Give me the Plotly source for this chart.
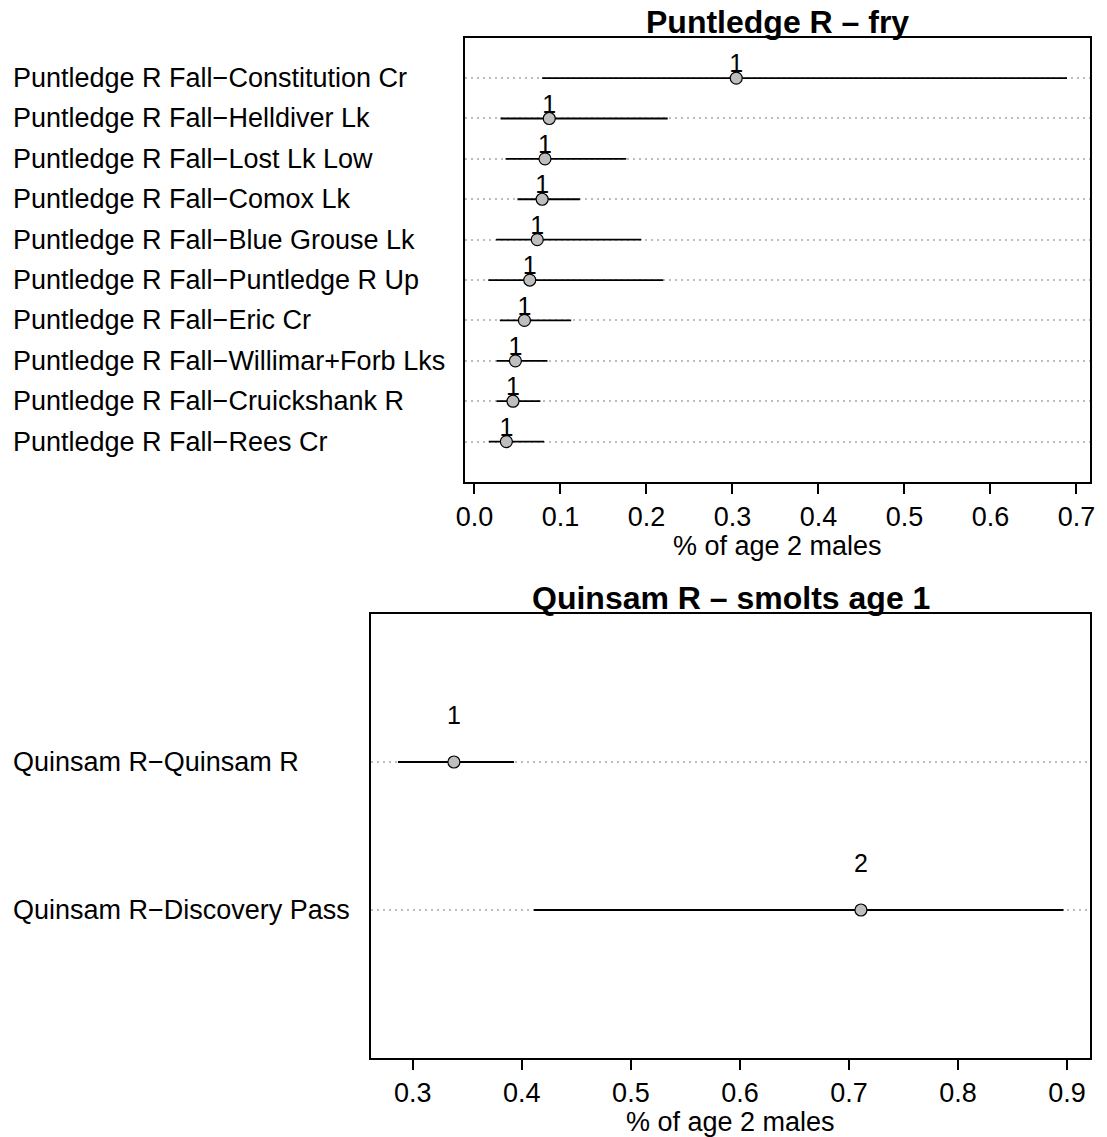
import plotly.graph_objects as go

# ---------------- data ----------------
top_title = "Puntledge R – fry"
top_labels = [
    "Puntledge R Fall−Constitution Cr",
    "Puntledge R Fall−Helldiver Lk",
    "Puntledge R Fall−Lost Lk Low",
    "Puntledge R Fall−Comox Lk",
    "Puntledge R Fall−Blue Grouse Lk",
    "Puntledge R Fall−Puntledge R Up",
    "Puntledge R Fall−Eric Cr",
    "Puntledge R Fall−Willimar+Forb Lks",
    "Puntledge R Fall−Cruickshank R",
    "Puntledge R Fall−Rees Cr",
]
top_est = [0.3044, 0.087, 0.082, 0.0787, 0.073, 0.0643, 0.0581, 0.0476, 0.0448, 0.0371]
top_lo = [0.0787, 0.0303, 0.0362, 0.0500, 0.0252, 0.0161, 0.0295, 0.0257, 0.0257, 0.0166]
top_hi = [0.6890, 0.2247, 0.1765, 0.1226, 0.1940, 0.2195, 0.1125, 0.0849, 0.0767, 0.0810]
top_tag = ["1", "1", "1", "1", "1", "1", "1", "1", "1", "1"]

bot_title = "Quinsam R – smolts age 1"
bot_labels = ["Quinsam R−Quinsam R", "Quinsam R−Discovery Pass"]
bot_est = [0.3377, 0.711]
bot_lo = [0.2864, 0.411]
bot_hi = [0.3928, 0.8968]
bot_tag = ["1", "2"]

x_title = "% of age 2 males"

# ---------------- layout constants ----------------
W, H = 1107, 1137
FONT = "Liberation Sans, Arial, Helvetica, sans-serif"
FS = 27
GRAY = "#BEBEBE"
DOTS = "1.5px,4.5px"

def px_x(p):
    return p / W

def px_y(p):
    return 1 - p / H

panels = [
    dict(labels=top_labels, est=top_est, lo=top_lo, hi=top_hi, tag=top_tag, title=top_title,
         xdom=[px_x(462), px_x(1095)], ydom=[px_y(482), px_y(37.7)], xt_y=546,
         xa="x", ya="y", xk="xaxis", yk="yaxis"),
    dict(labels=bot_labels, est=bot_est, lo=bot_lo, hi=bot_hi, tag=bot_tag, title=bot_title,
         xdom=[px_x(367), px_x(1095)], ydom=[px_y(1058), px_y(614)], xt_y=1122,
         xa="x2", ya="y2", xk="xaxis2", yk="yaxis2"),
]

fig = go.Figure()
annotations = []
layout_axes = {}

for p in panels:
    n = len(p["labels"])
    ys = [n - i for i in range(n)]
    err_plus = [h - e for h, e in zip(p["hi"], p["est"])]
    err_minus = [e - l for e, l in zip(p["est"], p["lo"])]
    fig.add_trace(go.Scatter(
        x=p["est"], y=ys, mode="markers", xaxis=p["xa"], yaxis=p["ya"],
        marker=dict(size=12, color=GRAY, line=dict(color="black", width=1.2)),
        error_x=dict(type="data", symmetric=False, array=err_plus, arrayminus=err_minus,
                     color="black", thickness=1.8, width=0),
        showlegend=False, hoverinfo="skip",
    ))
    fig.add_trace(go.Scatter(
        x=p["est"], y=[y + 0.3 for y in ys], mode="text", text=p["tag"],
        textposition="middle center", xaxis=p["xa"], yaxis=p["ya"],
        textfont=dict(family=FONT, size=25, color="black"),
        showlegend=False, hoverinfo="skip",
    ))
    lo_all, hi_all = min(p["lo"]), max(p["hi"])
    span = hi_all - lo_all
    xr = [lo_all - 0.04 * span, hi_all + 0.04 * span]
    layout_axes[p["xk"]] = dict(
        domain=p["xdom"], range=xr, anchor=p["ya"], dtick=0.1, tick0=0, tickformat=".1f",
        ticks="outside", ticklen=10, tickwidth=1.5, tickcolor="black",
        showline=True, mirror=True, linecolor="black", linewidth=1.5,
        showgrid=False, zeroline=False,
        tickfont=dict(family=FONT, size=FS, color="black"),
    )
    layout_axes[p["yk"]] = dict(
        domain=p["ydom"], range=[0, n + 1], anchor=p["xa"], tickvals=ys,
        showticklabels=False, ticks="", showline=True, mirror=True,
        linecolor="black", linewidth=1.5, zeroline=False,
        showgrid=True, gridcolor=GRAY, griddash=DOTS, gridwidth=1.5,
    )
    for lab, y in zip(p["labels"], ys):
        annotations.append(dict(
            text=lab, xref="paper", x=px_x(2), xanchor="left",
            yref=p["ya"], y=y, yanchor="middle", showarrow=False,
            font=dict(family=FONT, size=FS, color="black"),
        ))
    annotations.append(dict(
        text="<b>" + p["title"] + "</b>", xref="paper", x=sum(p["xdom"]) / 2,
        xanchor="center", yref="paper", y=p["ydom"][1], yanchor="bottom",
        yshift=-4, showarrow=False, font=dict(family=FONT, size=32, color="black"),
    ))
    annotations.append(dict(
        text=x_title, xref="paper", x=sum(p["xdom"]) / 2, xanchor="center",
        yref="paper", y=px_y(p["xt_y"]), yanchor="middle", showarrow=False,
        font=dict(family=FONT, size=FS, color="black"),
    ))

fig.update_layout(
    width=W, height=H, margin=dict(l=0, r=0, t=0, b=0),
    paper_bgcolor="white", plot_bgcolor="white",
    annotations=annotations, **layout_axes,
)

fig.write_html(
    "out.html",
    config={"displayModeBar": False},
    post_script="document.body.style.margin='0';document.body.style.overflow='hidden';",
)
